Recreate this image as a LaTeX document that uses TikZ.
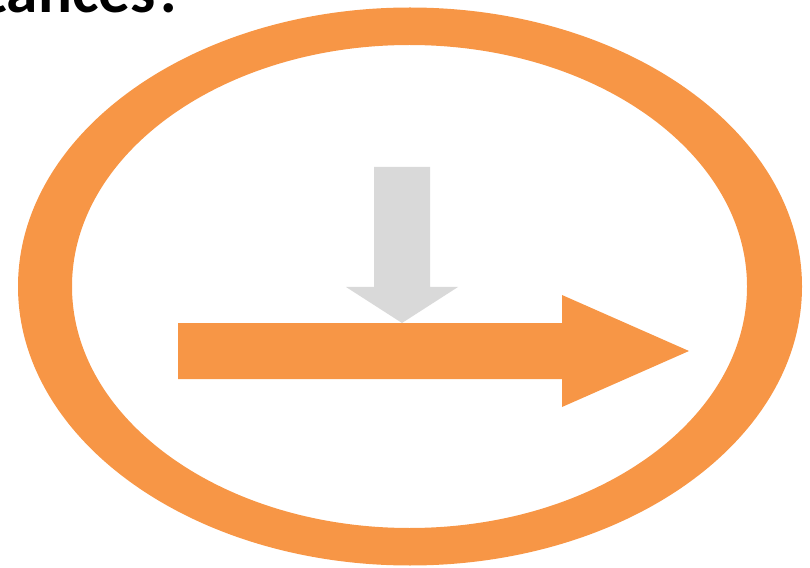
\documentclass[tikz,border=0pt]{standalone}
\usepackage{fontspec}
\setmainfont{Carlito}
\definecolor{ringorange}{HTML}{F79646}
\definecolor{arrowgray}{HTML}{D9D9D9}
\begin{document}
\begin{tikzpicture}[x=0.03cm,y=-0.03cm]
\useasboundingbox (0,0) rectangle (810,568);
\clip (0,0) rectangle (810,568);
\node[anchor=base east,inner sep=0,font=\fontsize{54}{56}\selectfont\bfseries] (title) at (185,13) {tances?};
% ring
\fill[ringorange,even odd rule] (410,286.5) ellipse [x radius=392,y radius=279]
  (409.5,286.5) ellipse [x radius=337.5,y radius=241.5];
% down arrow
\fill[arrowgray] (374,167)--(430,167)--(430,287)--(458,287)--(402,323)--(346,287)--(374,287)--cycle;
% right arrow
\fill[ringorange] (178,323)--(562,323)--(562,295)--(689,351)--(562,407)--(562,379)--(178,379)--cycle;
\end{tikzpicture}
\end{document}
